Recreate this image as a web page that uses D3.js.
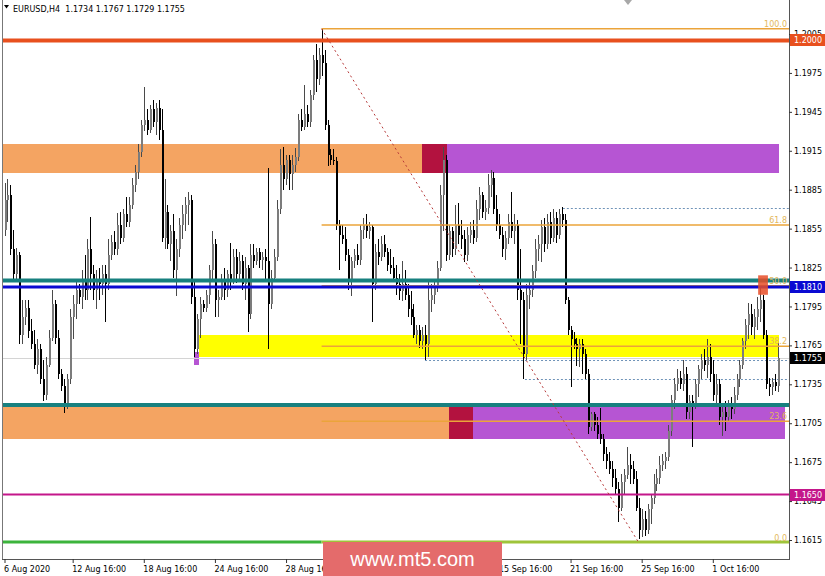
<!DOCTYPE html>
<html><head><meta charset="utf-8">
<script src="https://cdn.jsdelivr.net/npm/d3@7/dist/d3.min.js"></script>
<style>html,body{margin:0;padding:0;background:#fff;overflow:hidden}text{font-family:"DejaVu Sans",sans-serif}</style>
</head><body>
<svg id="c" width="825" height="576"></svg>
<script>
// ---------- DATA ----------
const symbolName = "EURUSD,H4";
const lastOHLC = ["1.1734", "1.1767", "1.1729", "1.1755"];
const pipBase = 1.16;      // candle values are pips above 1.1600
const opensPips = [
254,277,281,239,220,235,173,187,194,176,166,150,162,139,127,150,171,197,171,143,
134,120,139,187,197,208,202,216,208,239,220,208,216,212,220,212,235,245,239,258,
248,266,260,273,289,299,314,335,339,331,347,337,348,331,248,268,243,253,223,239,
258,266,273,277,202,162,185,197,194,204,223,243,200,202,216,208,220,216,233,220,
230,212,225,189,235,230,237,231,233,230,197,217,233,270,304,293,308,297,304,310,
339,333,343,337,358,385,370,389,383,335,312,308,307,258,250,247,235,214,230,235,
231,254,258,253,256,212,237,233,243,237,227,225,217,212,207,212,204,193,187,173,
177,168,173,166,200,204,210,225,281,308,235,253,239,258,250,247,235,250,254,248,
270,281,268,271,289,294,270,258,250,239,248,260,253,258,208,200,158,204,208,222,
239,243,256,243,260,248,263,250,266,262,200,177,170,166,162,166,158,143,102,112,
104,97,93,81,76,70,63,54,40,60,65,73,70,62,40,23,31,23,39,47,
58,63,73,76,79,99,123,135,140,135,143,114,122,120,135,147,154,150,156,143,
127,135,110,114,110,120,116,127,139,150,168,181,189,179,187,193,200,173,135,133,
137,134];
const highsPips = [
290,293,289,254,240,237,200,200,200,185,177,170,166,154,156,177,208,200,177,147,
139,143,193,204,216,212,223,235,247,264,227,223,225,227,227,247,250,253,267,268,
270,279,279,294,304,320,339,364,347,350,354,352,354,347,293,273,258,266,247,263,
273,279,283,281,216,189,202,200,208,227,253,247,208,220,225,223,244,239,239,237,
235,233,227,243,243,240,240,237,239,302,223,239,277,316,318,312,312,312,317,343,
347,366,350,362,389,397,394,409,393,339,316,316,310,262,258,256,239,233,239,243,
258,263,266,260,258,243,247,249,250,240,239,233,227,220,230,223,212,207,197,181,
181,179,181,216,212,216,230,289,318,312,258,256,273,275,262,254,256,260,262,277,
287,283,277,297,300,299,281,266,256,253,266,283,266,262,239,206,212,216,227,247,
250,262,263,266,268,270,268,270,272,266,202,180,175,171,170,170,162,147,114,114,
110,117,97,87,83,76,70,60,66,70,87,81,76,68,47,39,37,43,50,66,
70,80,81,83,104,127,140,147,145,154,148,127,127,139,150,158,162,170,166,154,
143,139,120,122,123,125,133,143,154,171,185,198,197,193,202,210,204,177,140,140,
143,167];
const lowsPips = [
249,260,235,216,216,166,166,181,171,162,147,143,135,122,123,148,168,166,139,130,
113,116,135,170,185,197,193,200,200,208,200,193,200,204,183,208,231,235,235,243,
245,256,256,270,283,293,310,330,327,329,333,327,323,245,239,239,230,217,203,233,
247,253,258,197,156,158,171,191,191,197,216,187,187,200,200,202,208,212,213,214,
208,200,175,185,225,227,225,223,216,162,193,214,230,266,285,289,285,285,299,307,
330,331,333,333,354,360,366,373,331,303,304,304,254,223,243,230,208,203,225,227,
227,247,248,247,183,208,227,230,233,222,220,214,204,200,199,200,187,181,171,166,
163,162,154,156,191,197,206,222,253,230,231,233,235,243,239,229,230,244,243,245,
262,263,262,266,279,266,253,247,233,231,243,248,243,200,166,139,154,193,202,217,
230,229,237,239,243,245,244,247,256,197,173,133,162,149,148,143,139,97,99,99,
93,89,76,70,66,56,50,29,37,50,62,58,58,37,16,17,18,20,27,43,
53,58,68,70,76,95,116,130,131,130,108,108,87,116,125,139,145,140,137,122,
120,104,95,99,107,108,112,123,133,147,162,170,173,170,177,183,170,131,126,127,
130,129];
const closesPips = [
277,281,239,220,235,173,187,194,176,166,150,162,139,127,150,171,197,171,143,134,
120,139,187,197,208,202,216,208,239,220,208,216,212,220,212,235,245,239,258,248,
266,260,273,289,299,314,335,339,331,347,337,348,331,248,268,243,253,223,239,258,
266,273,277,202,162,185,197,194,204,223,243,200,202,216,208,220,216,233,220,230,
212,225,189,235,230,237,231,233,230,197,217,233,270,304,293,308,297,304,310,339,
333,343,337,358,385,370,389,383,335,312,308,307,258,250,247,235,214,230,235,231,
254,258,253,256,212,237,233,243,237,227,225,217,212,207,212,204,193,187,173,177,
168,173,166,200,204,210,225,281,308,235,253,239,258,250,247,235,250,254,248,270,
281,268,271,289,294,270,258,250,239,248,260,253,258,208,200,158,204,208,222,239,
243,256,243,260,248,263,250,266,262,200,177,170,166,162,166,158,143,102,112,104,
97,93,81,76,70,63,54,40,60,65,73,70,62,40,23,31,23,39,47,58,
63,73,76,79,99,123,135,140,135,143,114,122,120,135,147,154,150,156,143,127,
135,110,114,110,120,116,127,139,150,168,181,189,179,187,193,200,173,135,133,137,
134,155];

const timeTickBars = [0, 23, 47, 71, 95, 119, 143, 167, 191, 215, 239];
const timeTickLabels = ["6 Aug 2020", "12 Aug 16:00", "18 Aug 16:00", "24 Aug 16:00", "28 Aug 16:00",
  "3 Sep 16:00", "9 Sep 16:00", "15 Sep 16:00", "21 Sep 16:00", "25 Sep 16:00", "1 Oct 16:00"];
const priceTicks = [1.2005, 1.1975, 1.1945, 1.1915, 1.1885, 1.1855, 1.1825, 1.1795, 1.1765, 1.1735, 1.1705, 1.1675, 1.1645, 1.1615];

const level1_2000 = 1.2000;
const tealLevels = [1.1815, 1.1719];
const blueLevel = 1.1810;
const magentaLevel = 1.1650;
const greenLevel = 1.16134;
const bidPrice = 1.1755;
const upperZone = [1.1898, 1.1920];
const upperZoneBars = [140.9, 149.3, 261.3];
const lowerZone = [1.1693, 1.1718];
const lowerZoneBars = [150, 158.1, 263.3];
const yellowZone = [1.1756, 1.1773];
const yellowZoneBars = [65.5, 261.3];
const markerZone = [1.1750, 1.1760];
const markerBars = [63.9, 65.5];
const signalZone = [1.1804, 1.1819];
const signalBars = [254.3, 257.6];
const fibHigh = 1.2009, fibHighBar = 107;
const fibLow = 1.1613, fibLowBar = 214;
const fibRatios = [0, 23.6, 38.2, 50, 61.8, 100];
const dottedLevels = [1.1871, 1.1754, 1.1739];
const dottedStartBars = [188.4, 141.9, 175.6];
const axisBoxes = [[1.2000, "1.2000"], [1.1810, "1.1810"], [1.1755, "1.1755"], [1.1650, "1.1650"]];

// ---------- LAYOUT ----------
const L = 2, R = 789, T = 0, B = 559;
const bars = closesPips.map((c, i) => ({
  i, o: pipBase + opensPips[i] / 1e4, h: pipBase + highsPips[i] / 1e4,
  l: pipBase + lowsPips[i] / 1e4, c: pipBase + c / 1e4
}));
const N = bars.length;
const x = d3.scaleLinear().domain([0, N - 1]).range([4.5, 778]);
const y = d3.scaleLinear().domain([1.1615, 1.2005]).range([540, 34]);

const svg = d3.select("#c");
svg.append("rect").attr("width", 825).attr("height", 576).attr("fill", "#fff");
svg.append("defs").append("clipPath").attr("id", "clip")
  .append("rect").attr("x", L).attr("y", T).attr("width", R - L).attr("height", B - T);
const plot = svg.append("g").attr("clip-path", "url(#clip)");

function band(g, p, b0, b1, color, xs, xe) {
  const x0 = xs !== undefined ? xs : x(b0), x1 = xe !== undefined ? xe : x(b1);
  g.append("rect").attr("x", x0).attr("width", x1 - x0)
    .attr("y", y(p[1])).attr("height", y(p[0]) - y(p[1])).attr("fill", color);
}
const zones = plot.append("g").attr("shape-rendering", "crispEdges");
band(zones, upperZone, 0, upperZoneBars[0], "#f4a462", L);
band(zones, upperZone, upperZoneBars[0], upperZoneBars[1], "#b3123f");
band(zones, upperZone, upperZoneBars[1], upperZoneBars[2], "#b655d3");
band(zones, lowerZone, 0, lowerZoneBars[0], "#f4a462", L);
band(zones, lowerZone, lowerZoneBars[0], lowerZoneBars[1], "#b3123f");
band(zones, lowerZone, lowerZoneBars[1], lowerZoneBars[2], "#b655d3");
plot.append("line").attr("x1", L).attr("x2", R).attr("y1", Math.round(y(bidPrice)) + 0.5).attr("y2", Math.round(y(bidPrice)) + 0.5)
  .attr("stroke", "#d4d4d4").attr("stroke-width", 1);
band(zones, yellowZone, yellowZoneBars[0], yellowZoneBars[1], "#ffff00");
band(zones, markerZone, markerBars[0], markerBars[1], "#b655d3");

dottedLevels.forEach((p, k) => {
  const yy = Math.round(y(p)) + 0.5;
  plot.append("line").attr("x1", x(dottedStartBars[k])).attr("x2", R).attr("y1", yy).attr("y2", yy)
    .attr("stroke", "#6f93b8").attr("stroke-width", 1).attr("stroke-dasharray", "2,2");
});

// candles
const cg = plot.append("g").attr("shape-rendering", "crispEdges");
const cx = d => Math.round(x(d.i));
const bull = d => d.c >= d.o;
cg.selectAll("line").data(bars).join("line")
  .attr("x1", d => cx(d) + 0.5).attr("x2", d => cx(d) + 0.5)
  .attr("y1", d => y(d.h)).attr("y2", d => y(d.l))
  .attr("stroke", d => bull(d) ? "#4a4a4a" : "#000").attr("stroke-width", 1);
cg.selectAll("rect").data(bars).join("rect")
  .attr("x", d => cx(d)).attr("width", 2)
  .attr("y", d => y(Math.max(d.o, d.c)))
  .attr("height", d => Math.max(1, Math.abs(y(d.o) - y(d.c))))
  .attr("fill", d => bull(d) ? "#7c7c7c" : "#000");

function hline(p, color, w, x0, x1) {
  plot.append("line").attr("x1", x0 === undefined ? L : x0).attr("x2", x1 === undefined ? R : x1)
    .attr("y1", y(p)).attr("y2", y(p)).attr("stroke", color).attr("stroke-width", w);
}
const fibLevel = r => fibLow + (fibHigh - fibLow) * r / 100;
fibRatios.forEach(r => {
  if (r === 0) return;
  hline(fibLevel(r), "#eba43a", 1.5, x(fibHighBar), R);
});
hline(level1_2000, "#e8501e", 4);
tealLevels.forEach(p => hline(p, "#17807f", 4));
hline(blueLevel, "#0a0ad2", 3);
hline(magentaLevel, "#c4168a", 2);
hline(greenLevel, "#3cb43c", 3, L, x(fibHighBar));
hline(greenLevel, "#9fc43a", 3, x(fibHighBar), R);
band(plot, signalZone, signalBars[0], signalBars[1], "rgba(232,78,40,0.85)");
plot.append("line").attr("x1", x(fibHighBar)).attr("y1", y(fibHigh))
  .attr("x2", x(fibLowBar)).attr("y2", y(fibLow))
  .attr("stroke", "#b73a3a").attr("stroke-width", 1).attr("stroke-dasharray", "2,3");
fibRatios.forEach(r => {
  plot.append("text").attr("x", R - 2).attr("y", y(fibLevel(r)) - 2)
    .attr("text-anchor", "end").attr("font-size", 8).attr("fill", "#e3b75a")
    .text(r.toFixed(1));
});

// frame
const fr = svg.append("g").attr("shape-rendering", "crispEdges");
fr.append("line").attr("x1", L + 0.5).attr("x2", L + 0.5).attr("y1", T).attr("y2", B).attr("stroke", "#777");
fr.append("line").attr("x1", R + 0.5).attr("x2", R + 0.5).attr("y1", T).attr("y2", B + 1).attr("stroke", "#555");
fr.append("line").attr("x1", L).attr("x2", R + 1).attr("y1", B + 0.5).attr("y2", B + 0.5).attr("stroke", "#555");

// axes
const ax = svg.append("g").attr("transform", `translate(0,${B})`)
  .call(d3.axisBottom(x).tickValues(timeTickBars).tickFormat((d, k) => timeTickLabels[k]).tickSize(4).tickPadding(3));
ax.select(".domain").remove();
ax.selectAll("line").attr("stroke", "#333");
ax.selectAll("text").attr("text-anchor", "start").attr("x", -1).attr("font-size", 8)
  .attr("font-family", "DejaVu Sans").attr("fill", "#000");
const ay = svg.append("g").attr("transform", `translate(${R},0)`)
  .call(d3.axisRight(y).tickValues(priceTicks).tickFormat(d3.format(".4f")).tickSize(3).tickPadding(2));
ay.select(".domain").remove();
ay.selectAll("line").attr("stroke", "#333");
ay.selectAll("text").attr("font-size", 8).attr("font-family", "DejaVu Sans").attr("fill", "#000");

const boxColors = ["#e8501e", "#0a0ad2", "#000000", "#c4168a"];
axisBoxes.forEach(([p, t], k) => {
  const yy = Math.round(y(p));
  svg.append("rect").attr("x", R + 1).attr("y", yy - 6).attr("width", 825 - R - 1).attr("height", 12)
    .attr("fill", boxColors[k]);
  svg.append("text").attr("x", R + 5).attr("y", yy + 3).attr("font-size", 8).attr("fill", "#fff").text(t);
});

// header
svg.append("path").attr("d", "M4,5 L9,5 L6.5,8.5 Z").attr("fill", "#000");
svg.append("text").attr("x", 13).attr("y", 12).attr("font-size", 8).attr("fill", "#000")
  .attr("xml:space", "preserve").style("white-space", "pre")
  .text(symbolName + "  " + lastOHLC.join(" "));
svg.append("path").attr("d", "M624,0 L632,0 L628,5 Z").attr("fill", "#a8a8a8");

// watermark
svg.append("rect").attr("x", 323).attr("y", 542).attr("width", 179).attr("height", 34).attr("fill", "#e46b6b");
svg.append("text").attr("x", 412.5).attr("y", 566).attr("text-anchor", "middle")
  .style("font-family", "'Liberation Sans', Arial, sans-serif")
  .attr("font-size", 20).attr("fill", "#fff").text("www.mt5.com");
</script>
</body></html>
